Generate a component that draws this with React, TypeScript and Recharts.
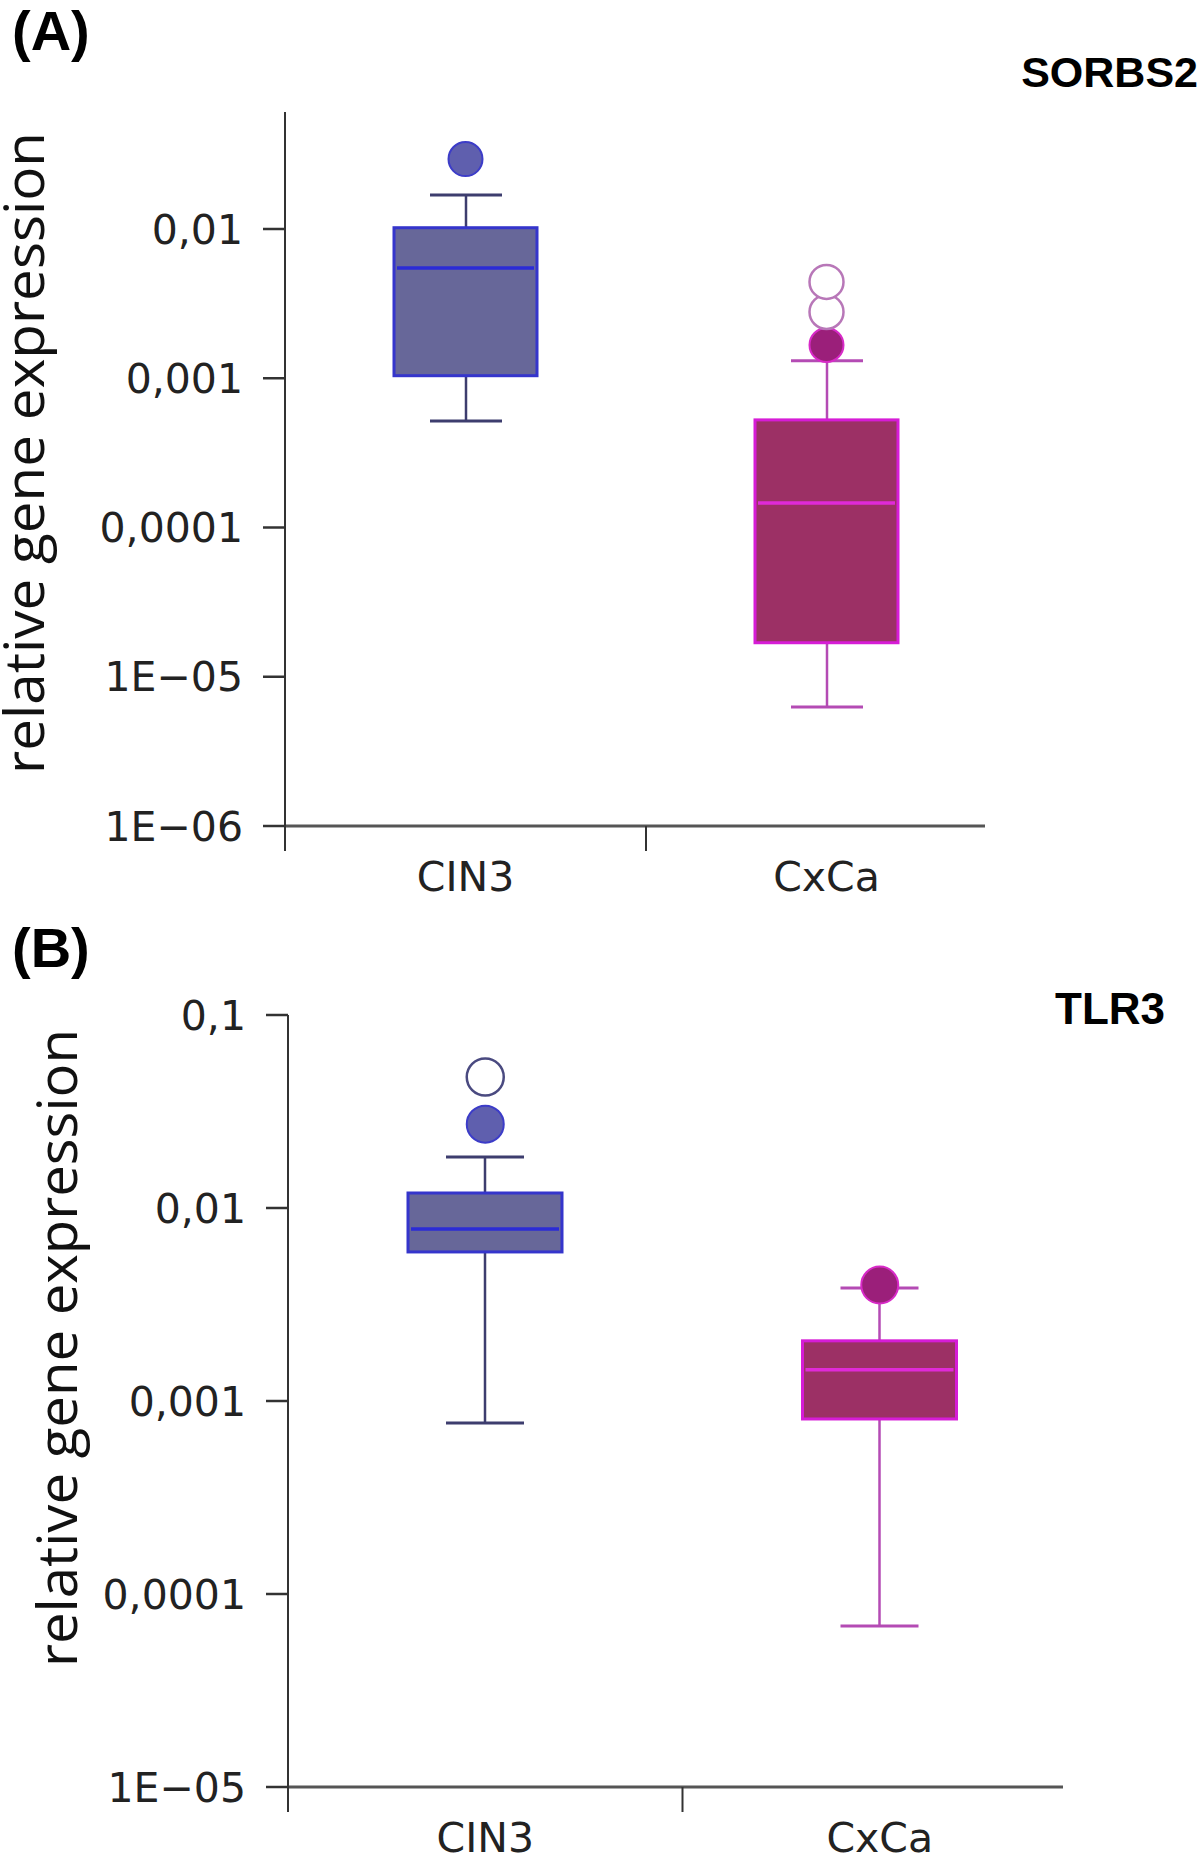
import React from 'react';
import { ComposedChart, Bar, Scatter, XAxis, YAxis } from 'recharts';

// --- data ---
const groups = ['CIN3', 'CxCa'];

// (A) SORBS2
const sorbsMin = [0.000518, 0.00000628];
const sorbsQ1 = [0.00104, 0.0000169];
const sorbsMedian = [0.00548, 0.000146];
const sorbsQ3 = [0.0102, 0.000526];
const sorbsMax = [0.0169, 0.00131];
const sorbsOutliers = [
    { group: 'CIN3', value: 0.0294, filled: true },
    { group: 'CxCa', value: 0.00167, filled: true },
    { group: 'CxCa', value: 0.00278, filled: false },
    { group: 'CxCa', value: 0.00442, filled: false },
];
const sorbsTicks = [1e-6, 1e-5, 1e-4, 1e-3, 1e-2];
const sorbsTickLabels = ['1E\u221206', '1E\u221205', '0,0001', '0,001', '0,01'];

// (B) TLR3
const tlrMin = [0.000769, 0.0000683];
const tlrQ1 = [0.00592, 0.000807];
const tlrMedian = [0.00778, 0.00145];
const tlrQ3 = [0.01196, 0.00205];
const tlrMax = [0.01837, 0.00385];
const tlrOutliers = [
    { group: 'CIN3', value: 0.0272, filled: true },
    { group: 'CIN3', value: 0.0477, filled: false },
    { group: 'CxCa', value: 0.00399, filled: true },
];
const tlrTicks = [1e-5, 1e-4, 1e-3, 1e-2, 1e-1];
const tlrTickLabels = ['1E\u221205', '0,0001', '0,001', '0,01', '0,1'];

// --- styles ---
const PALETTE: Record<string, any> = {
    CIN3: { fill: '#676799', stroke: '#3535cc', median: '#2b2bd6', whisker: '#3d3d6e', dot: '#5f5fae', dotStroke: '#3c3cc8', open: '#4a4a80' },
    CxCa: { fill: '#9c3065', stroke: '#d61cd6', median: '#e02ad8', whisker: '#b44bb4', dot: '#9b1f7a', dotStroke: '#d82ac8', open: '#b877b8' },
};
const TICK_FONT = { fontFamily: 'DejaVu Sans', fontSize: 41, fill: '#222' };

const buildRows = (mins: number[], q1: number[], med: number[], q3: number[], maxs: number[]) =>
    groups.map((g, i) => ({
        group: g,
        whisker: [mins[i], maxs[i]],
        box: [q1[i], q3[i]],
        medianSpan: [q1[i], med[i]],
    }));

const tickFormat = (ticks: number[], labels: string[]) => (v: number) => {
    const i = ticks.findIndex((t) => Math.abs(Math.log10(t) - Math.log10(v)) < 1e-6);
    return i >= 0 ? labels[i] : '';
};

const WhiskerShape = (props: any) => {
    const { x, y, width, height, payload } = props;
    const c = PALETTE[payload.group];
    const cx = x + width / 2;
    return (
        <g>
            <line x1={cx} x2={cx} y1={y} y2={y + height} stroke={c.whisker} strokeWidth={2.5} />
            <line x1={x} x2={x + width} y1={y} y2={y} stroke={c.whisker} strokeWidth={3} />
            <line x1={x} x2={x + width} y1={y + height} y2={y + height} stroke={c.whisker} strokeWidth={3} />
        </g>
    );
};

const BoxShape = (props: any) => {
    const { x, y, width, height, payload } = props;
    const c = PALETTE[payload.group];
    return <rect x={x} y={y} width={width} height={height} fill={c.fill} stroke={c.stroke} strokeWidth={3} />;
};

const MedianShape = (props: any) => {
    const { x, y, width, payload } = props;
    const c = PALETTE[payload.group];
    return <line x1={x} x2={x + width} y1={y} y2={y} stroke={c.median} strokeWidth={3.5} />;
};

const makeDot = (r: number) => (props: any) => {
    const { cx, cy, payload } = props;
    const c = PALETTE[payload.group];
    return payload.filled
        ? <circle cx={cx} cy={cy} r={r} fill={c.dot} stroke={c.dotStroke} strokeWidth={2} />
        : <circle cx={cx} cy={cy} r={r} fill="#fff" stroke={c.open} strokeWidth={2.5} />;
};

interface PanelProps {
    rows: any[];
    outliers: any[];
    ticks: number[];
    tickLabels: string[];
    domain: [number, number];
    height: number;
    marginTop: number;
    marginRight: number;
    marginBottom: number;
    yWidth: number;
    padRight: number;
    halfBand: number;
    boxSize: number;
    capSize: number;
    radius: number;
}

const BoxPanel = (p: PanelProps) => {
    const pad = { left: 0, right: p.padRight };
    // frame axis: same categories shifted by half a band, so its ticks sit on the band edges
    const framePad = { left: -p.halfBand, right: p.padRight + p.halfBand };
    return (
        <ComposedChart width={1200} height={p.height} data={p.rows}
            margin={{ top: p.marginTop, right: p.marginRight, bottom: p.marginBottom, left: 0 }}>
            <XAxis xAxisId="b_labels" dataKey="group" allowDuplicatedCategory={false} padding={pad}
                height={1} axisLine={false} tickLine={false} tickSize={0} tickMargin={35}
                tick={TICK_FONT} interval={0} />
            <XAxis xAxisId="a_frame" dataKey="group" allowDuplicatedCategory={false} padding={framePad}
                height={1} tickSize={25} tickFormatter={() => ''} interval={0}
                axisLine={{ stroke: '#555', strokeWidth: 3 }} tickLine={{ stroke: '#333', strokeWidth: 2 }} />
            <XAxis xAxisId="w" dataKey="group" allowDuplicatedCategory={false} padding={pad} hide />
            <XAxis xAxisId="m" dataKey="group" allowDuplicatedCategory={false} padding={pad} hide />
            <YAxis type="number" scale="log" domain={p.domain} allowDataOverflow ticks={p.ticks} interval={0}
                tickFormatter={tickFormat(p.ticks, p.tickLabels)} width={p.yWidth} tickSize={22} tickMargin={20}
                tick={TICK_FONT} axisLine={{ stroke: '#333', strokeWidth: 2 }} tickLine={{ stroke: '#333', strokeWidth: 2.5 }} />
            <Bar xAxisId="w" dataKey="whisker" barSize={p.capSize} shape={WhiskerShape} isAnimationActive={false} />
            <Bar xAxisId="b_labels" dataKey="box" barSize={p.boxSize} shape={BoxShape} isAnimationActive={false} />
            <Bar xAxisId="m" dataKey="medianSpan" barSize={p.boxSize - 6} shape={MedianShape} isAnimationActive={false} />
            <Scatter xAxisId="b_labels" data={p.outliers} dataKey="value" shape={makeDot(p.radius)} isAnimationActive={false} />
        </ComposedChart>
    );
};

export default function App() {
    const rowsA = buildRows(sorbsMin, sorbsQ1, sorbsMedian, sorbsQ3, sorbsMax);
    const rowsB = buildRows(tlrMin, tlrQ1, tlrMedian, tlrQ3, tlrMax);
    return (
        <div style={{ position: 'absolute', left: 0, top: 0, width: 1200, height: 1854, background: '#fff', overflow: 'hidden' }}>
            <div style={{ position: 'absolute', left: 0, top: 0 }}>
                <BoxPanel rows={rowsA} outliers={sorbsOutliers} ticks={sorbsTicks} tickLabels={sorbsTickLabels}
                    domain={[1e-6, 0.0608]} height={900} marginTop={112} marginRight={215} marginBottom={72}
                    yWidth={285} padRight={-22} halfBand={180.5} boxSize={143} capSize={72} radius={17} />
            </div>
            <div style={{ position: 'absolute', left: 0, top: 900 }}>
                <BoxPanel rows={rowsB} outliers={tlrOutliers} ticks={tlrTicks} tickLabels={tlrTickLabels}
                    domain={[1e-5, 0.1]} height={954} marginTop={115} marginRight={137} marginBottom={65}
                    yWidth={288} padRight={-14} halfBand={197.25} boxSize={154} capSize={78} radius={18.5} />
            </div>
            <svg width={1200} height={1854} style={{ position: 'absolute', left: 0, top: 0, pointerEvents: 'none' }}>
                <g fontFamily="Liberation Sans" fontWeight="bold" fill="#000">
                    <text x={12} y={50} fontSize={56}>(A)</text>
                    <text x={12} y={967} fontSize={56}>(B)</text>
                    <text x={1198} y={87} fontSize={43} textAnchor="end">SORBS2</text>
                    <text x={1165} y={1024} fontSize={44} textAnchor="end">TLR3</text>
                </g>
                <g fontFamily="Open Sans" fontSize={54} fill="#111" textAnchor="middle">
                    <text transform="translate(44,453) rotate(-90)" textLength={642} lengthAdjust="spacingAndGlyphs">relative gene expression</text>
                    <text transform="translate(77,1348) rotate(-90)" textLength={638} lengthAdjust="spacingAndGlyphs">relative gene expression</text>
                </g>
            </svg>
        </div>
    );
}
